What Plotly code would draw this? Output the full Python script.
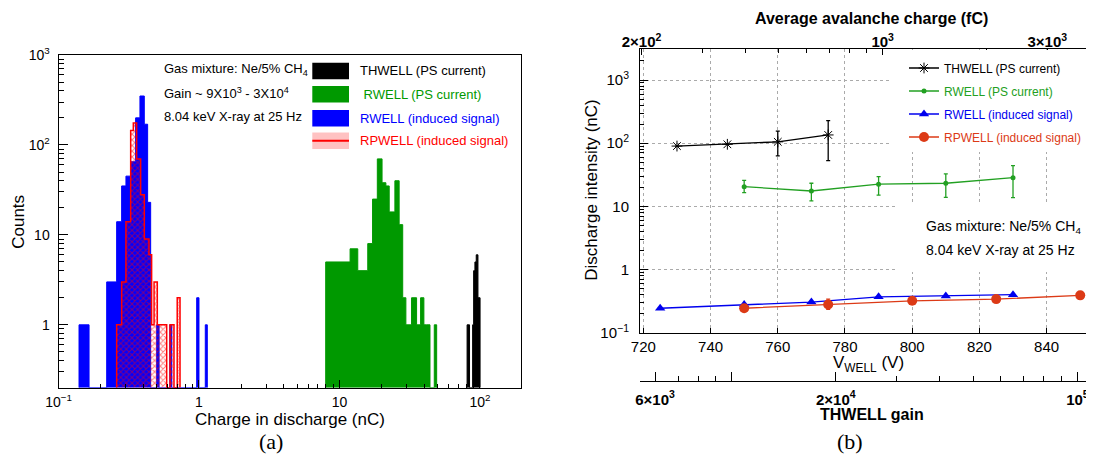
import math
import plotly.graph_objects as go

# ---------------- Panel (a): histograms of discharge charge (nC) ----------------
thwell_edges = [81.0, 84.3, 88.7, 90.2, 92.1, 94.1, 96.8, 100.2]
thwell_counts = [1, 0, 1, 4, 5, 6, 2]

rwell_ps_edges = [7.98, 11.9, 13.5, 15.9, 17.2, 18.6, 20.1, 21.4, 22.6, 24.8, 26.6,
                  28.2, 29.7, 32.6, 35.4, 37.8, 39.9, 41.8, 44.1, 47.3, 49.2]
rwell_ps_counts = [5, 7, 4, 8, 25, 70, 38, 35, 18, 40, 13, 2, 1, 2, 1, 2, 1, 1, 0, 1]

rwell_ind_edges = [0.140, 0.165, 0.2203, 0.2594, 0.2815, 0.3021, 0.3264, 0.354, 0.380,
                   0.408, 0.431, 0.453, 0.50, 0.52, 0.62, 0.64, 0.963, 1.0, 1.109, 1.146]
rwell_ind_counts = [1, 0, 3, 14, 35, 45, 65, 200, 350, 170, 23, 0, 1, 0, 1, 0, 2, 0, 1]

rpwell_ind_edges = [0.2594, 0.2815, 0.3021, 0.3264, 0.3409, 0.36, 0.3844, 0.4082, 0.4406,
                    0.4603, 0.479, 0.505, 0.589, 0.622, 0.664, 0.70, 0.733]
rpwell_ind_counts = [1, 3, 14, 145, 175, 70, 28, 9, 6, 1, 3, 1, 0, 1, 0, 2]

a_xtick_vals = [0.1, 1, 10, 100]
a_xtick_text = ["10<sup>−1</sup>", "1", "10", "10<sup>2</sup>"]
a_ytick_vals = [1, 10, 100, 1000]
a_ytick_text = ["1", "10", "10<sup>2</sup>", "10<sup>3</sup>"]

# ---------------- Panel (b): discharge intensity vs V_WELL ----------------
th_v = [730, 745, 760, 775]
th_q = [90, 96, 105, 135]
th_err_up = [0, 0, 50, 92]
th_err_dn = [0, 0, 42, 82]

rw_ps_v = [750, 770, 790, 810, 830]
rw_ps_q = [20.5, 17.5, 22.4, 23.2, 28.4]
rw_ps_err_up = [5.2, 5.7, 7.1, 9.4, 15.6]
rw_ps_err_dn = [4.0, 5.3, 7.3, 9.3, 14.7]

rw_ind_v = [725, 750, 770, 790, 810, 830]
rw_ind_q = [0.244, 0.28, 0.305, 0.37, 0.38, 0.40]

rp_ind_v = [750, 775, 800, 825, 850]
rp_ind_q = [0.244, 0.28, 0.32, 0.34, 0.39]
rp_err_up = [0.03, 0.06, 0.02, 0.02, 0.02]
rp_err_dn = [0.025, 0.045, 0.02, 0.02, 0.02]

v_ticks = [720, 740, 760, 780, 800, 820, 840]
b_ytick_vals = [0.1, 1, 10, 100, 1000]
b_ytick_text = ["10<sup>−1</sup>", "1", "10", "10<sup>2</sup>", "10<sup>3</sup>"]
charge_tick_vals = [200, 1000, 3000]
charge_tick_text = ["<b>2×10<sup>2</sup></b>", "<b>10<sup>3</sup></b>", "<b>3×10<sup>3</sup></b>"]
gain_tick_vals = [6000, 10000, 20000, 100000]
gain_tick_text = ["<b>6×10<sup>3</sup></b>", "", "<b>2×10<sup>4</sup></b>", "<b>10<sup>5</sup></b>"]

# ---------------- helpers ----------------
# the page body has an 8 px margin, so the figure is drawn 8 px in from the corner
OFF = 8
W, H = 1094 - OFF, 466 - OFF


def px(x):
    return (x - OFF) / W


def py(y):
    return 1 - (y - OFF) / H


def step_polygon(edges, counts, base=0.2):
    xs, ys = [edges[0]], [base]
    for i, c in enumerate(counts):
        v = c if c > 0 else base
        xs += [edges[i], edges[i + 1]]
        ys += [v, v]
    xs.append(edges[-1])
    ys.append(base)
    return xs, ys


def decade_minors(lo_exp, hi_exp):
    out = []
    for e in range(lo_exp, hi_exp):
        for m in range(2, 10):
            out.append(m * 10 ** e)
    return out


FONT = "Liberation Sans, Arial, sans-serif"
GREEN_A = "#009900"
GREEN_B = "#22a022"
ORANGE_B = "#dc3a16"

fig = go.Figure()

# ---- panel (a) traces ----
for edges, counts, col in [(thwell_edges, thwell_counts, "black"),
                           (rwell_ps_edges, rwell_ps_counts, GREEN_A),
                           (rwell_ind_edges, rwell_ind_counts, "#0000ff")]:
    xs, ys = step_polygon(edges, counts)
    fig.add_trace(go.Scatter(x=xs, y=ys, mode="lines", fill="toself", fillcolor=col,
                             line=dict(color=col, width=1), xaxis="x", yaxis="y",
                             showlegend=False, hoverinfo="skip"))
xs, ys = step_polygon(rpwell_ind_edges, rpwell_ind_counts)
fig.add_trace(go.Scatter(x=xs, y=ys, mode="lines", fill="toself",
                         fillcolor="rgba(0,0,0,0)",
                         fillpattern=dict(shape="x", fgcolor="#ff0000", bgcolor="rgba(0,0,0,0)",
                                          size=4, solidity=0.45, fillmode="overlay"),
                         line=dict(color="#ff0000", width=1.5), xaxis="x", yaxis="y",
                         showlegend=False, hoverinfo="skip"))

# ---- panel (b) traces ----
fig.add_trace(go.Scatter(x=th_v, y=th_q, mode="lines+markers", name="THWELL (PS current)",
                         line=dict(color="black", width=1.3),
                         marker=dict(symbol="asterisk-open", size=9, color="black",
                                     line=dict(color="black", width=1)),
                         error_y=dict(type="data", symmetric=False, array=th_err_up,
                                      arrayminus=th_err_dn, color="black", thickness=1.3, width=2),
                         xaxis="x2", yaxis="y2", legendgroup="g1"))
fig.add_trace(go.Scatter(x=rw_ps_v, y=rw_ps_q, mode="lines+markers",
                         name='<span style="color:#22a022">RWELL (PS current)</span>',
                         line=dict(color=GREEN_B, width=1.3),
                         marker=dict(symbol="circle", size=5, color=GREEN_B),
                         error_y=dict(type="data", symmetric=False, array=rw_ps_err_up,
                                      arrayminus=rw_ps_err_dn, color=GREEN_B, thickness=1.3, width=2),
                         xaxis="x2", yaxis="y2", legendgroup="g2"))
fig.add_trace(go.Scatter(x=rw_ind_v, y=rw_ind_q, mode="lines+markers",
                         name='<span style="color:#0000ee">RWELL (induced signal)</span>',
                         line=dict(color="#0000ee", width=1.3),
                         marker=dict(symbol="triangle-up", size=9, color="#0000ee"),
                         xaxis="x2", yaxis="y2", legendgroup="g3"))
fig.add_trace(go.Scatter(x=rp_ind_v, y=rp_ind_q, mode="lines+markers",
                         name='<span style="color:#dc3a16">RPWELL (induced signal)</span>',
                         line=dict(color=ORANGE_B, width=1.3),
                         marker=dict(symbol="circle", size=10, color=ORANGE_B),
                         error_y=dict(type="data", symmetric=False, array=rp_err_up,
                                      arrayminus=rp_err_dn, color=ORANGE_B, thickness=1.3, width=2),
                         xaxis="x2", yaxis="y2", legendgroup="g4"))
# empty traces so the secondary axes are attached to the (b) subplot
fig.add_trace(go.Scatter(x=[], y=[], xaxis="x3", yaxis="y2", showlegend=False))
fig.add_trace(go.Scatter(x=[], y=[], xaxis="x4", yaxis="y2", showlegend=False))

tickfont = dict(family=FONT, size=14, color="black")
boldtick = dict(family=FONT, size=15, color="black")

fig.update_layout(
    template="none",
    width=W, height=H, margin=dict(l=0, r=0, t=0, b=0, pad=0),
    paper_bgcolor="white", plot_bgcolor="white",
    font=dict(family=FONT, color="black"),
    xaxis=dict(domain=[px(58.5), px(521)], anchor="y", type="log", automargin=False,
               range=[-1, math.log10(196)], showline=True, linecolor="black", linewidth=1,
               mirror=True, showgrid=False, zeroline=False,
               tickmode="array", tickvals=a_xtick_vals, ticktext=a_xtick_text,
               ticks="inside", ticklen=8, tickcolor="black", tickfont=tickfont,
               ticklabelstandoff=1,
               minor=dict(tickmode="array", tickvals=decade_minors(-1, 3)[:-8] + [200],
                          ticks="inside", ticklen=4, tickcolor="black", showgrid=False)),
    yaxis=dict(domain=[py(387.7), py(55)], anchor="x", type="log", automargin=False,
               range=[math.log10(0.2), 3], showline=True, linecolor="black", linewidth=1,
               mirror=True, showgrid=False, zeroline=False,
               tickmode="array", tickvals=a_ytick_vals, ticktext=a_ytick_text,
               ticks="inside", ticklen=9, tickcolor="black", tickfont=tickfont,
               ticklabelstandoff=5,
               minor=dict(tickmode="array", tickvals=decade_minors(-1, 3),
                          ticks="inside", ticklen=5, tickcolor="black", showgrid=False)),
    xaxis2=dict(domain=[px(640), 1.0], anchor="y2", range=[719, 854.1], automargin=False,
                showline=True, linecolor="black", linewidth=1, zeroline=False,
                tickmode="array", tickvals=v_ticks, ticks="inside", ticklen=5,
                tickcolor="black", tickfont=dict(family=FONT, size=15, color="black"),
                ticklabelstandoff=0,
                showgrid=True, gridcolor="#aaaaaa", griddash="dot", gridwidth=1),
    yaxis2=dict(domain=[py(332.7), py(49.3)], anchor="x2", type="log", range=[-1, 3.486],
                automargin=False,
                showline=True, linecolor="black", linewidth=1, zeroline=False,
                tickmode="array", tickvals=b_ytick_vals, ticktext=b_ytick_text,
                ticks="inside", ticklen=8, tickcolor="black",
                tickfont=dict(family=FONT, size=15, color="black"), ticklabelstandoff=7,
                showgrid=True, gridcolor="#aaaaaa", griddash="dot", gridwidth=1,
                minor=dict(tickmode="array", tickvals=decade_minors(-1, 3) + [2000, 3000],
                           ticks="inside", ticklen=4, tickcolor="black", showgrid=False)),
    xaxis3=dict(overlaying="x2", anchor="y2", side="top", type="log", automargin=False,
                range=[2.2965, 3.6125], showline=True, linecolor="black", linewidth=1,
                showgrid=False, zeroline=False,
                tickmode="array", tickvals=charge_tick_vals, ticktext=charge_tick_text,
                ticks="inside", ticklen=6, tickcolor="black", tickfont=boldtick,
                ticklabelstandoff=-5,
                minor=dict(tickmode="array",
                           tickvals=[300, 400, 500, 600, 700, 800, 900, 2000, 4000],
                           ticks="inside", ticklen=4, tickcolor="black", showgrid=False)),
    xaxis4=dict(overlaying="x2", anchor="free", position=py(380.7), side="bottom", type="log",
                automargin=False,
                range=[3.7347, 5.048], showline=True, linecolor="black", linewidth=1,
                showgrid=False, zeroline=False,
                tickmode="array", tickvals=gain_tick_vals, ticktext=gain_tick_text,
                ticks="inside", ticklen=9, tickcolor="black", tickfont=boldtick,
                ticklabelstandoff=5,
                minor=dict(tickmode="array",
                           tickvals=[7000, 8000, 9000, 30000, 40000, 50000, 60000, 70000, 80000, 90000],
                           ticks="inside", ticklen=5, tickcolor="black", showgrid=False)),
    legend=dict(x=px(904), y=py(53.5), xanchor="left", yanchor="top", bgcolor="white",
                borderwidth=0, font=dict(family=FONT, size=12, color="black"),
                tracegroupgap=4, itemwidth=30),
)

# ---- panel (a) legend (ROOT-style boxes) ----
shapes = []
leg_rows = [71, 94.3, 118.3, 140.7]
leg_cols = ["black", GREEN_A, "#0000ff"]
for yc, col in zip(leg_rows[:3], leg_cols):
    shapes.append(dict(type="rect", xref="paper", yref="paper", x0=px(312.3), x1=px(349),
                       y0=py(yc + 8.3), y1=py(yc - 8.3), fillcolor=col, line=dict(width=0)))
shapes.append(dict(type="rect", xref="paper", yref="paper", x0=px(312.3), x1=px(349),
                   y0=py(leg_rows[3] + 8.3), y1=py(leg_rows[3] - 8.3),
                   fillcolor="rgba(255,80,80,0.35)", line=dict(width=0)))
shapes.append(dict(type="line", xref="paper", yref="paper", x0=px(312.3), x1=px(349),
                   y0=py(leg_rows[3]), y1=py(leg_rows[3]), line=dict(color="#ff0000", width=2)))
# white boxes behind the (b) legend area and text (they hide grid lines, as in the original)
shapes.append(dict(type="rect", xref="paper", yref="paper", x0=px(892), x1=1.0,
                   y0=py(149), y1=py(50), fillcolor="white", line=dict(width=0), layer="above"))
shapes.append(dict(type="rect", xref="paper", yref="paper", x0=px(898), x1=1.0,
                   y0=py(272), y1=py(203), fillcolor="white", line=dict(width=0), layer="above"))
fig.update_layout(shapes=shapes)

ann = []


def note(text, x, y, size, color="black", xanchor="center", angle=0, family=FONT):
    ann.append(dict(text=text, x=px(x), y=py(y), xref="paper", yref="paper",
                    xanchor=xanchor, yanchor="middle", showarrow=False, textangle=angle,
                    font=dict(family=family, size=size, color=color)))


leg_labels = [("THWELL (PS current)", "black"), (" RWELL (PS current)", GREEN_A),
              ("RWELL (induced signal)", "#0000ff"), ("RPWELL (induced signal)", "#ff0000")]
for yc, (txt, col) in zip(leg_rows, leg_labels):
    note(txt, 358.3, yc, 13, col, "left")
a_info = ["Gas mixture: Ne/5% CH<sub>4</sub>", "Gain ~ 9X10<sup>3</sup> - 3X10<sup>4</sup>",
          "8.04 keV X-ray at 25 Hz"]
for yc, txt in zip([70, 93.3, 116], a_info):
    note(txt, 162.3, yc, 13, "black", "left")
b_info = ["Gas mixture: Ne/5% CH<sub>4</sub>", "8.04 keV X-ray at 25 Hz"]
for yc, txt in zip([226.7, 250], b_info):
    note(txt, 924.3, yc, 14, "black", "left")
# axis titles
note("Counts", 18.3, 221.5, 17, angle=-90)
note("Charge in discharge (nC)", 290, 419, 17)
note("Discharge intensity (nC)", 591.7, 190, 17, angle=-90)
note("V<sub>WELL</sub> (V)", 868, 364, 17)
note("<b>Average avalanche charge (fC)</b>", 871.7, 18.3, 16)
note("<b>THWELL gain</b>", 871.7, 414.3, 16)
# captions
note("(a)", 271, 441, 22, family="Liberation Serif, Times New Roman, serif")
note("(b)", 850, 441, 22, family="Liberation Serif, Times New Roman, serif")
fig.update_layout(annotations=ann)

fig.write_html("out.html")
